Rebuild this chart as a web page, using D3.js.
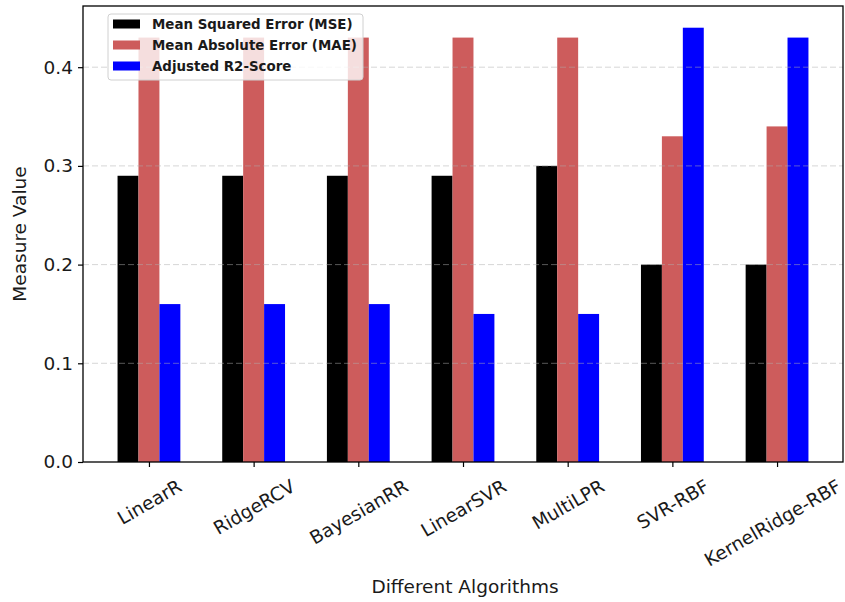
<!DOCTYPE html>
<html>
<head>
<meta charset="utf-8">
<script src="https://cdn.jsdelivr.net/npm/d3@7"></script>
<style>
  html, body { margin: 0; padding: 0; background: #fff; }
  svg { display: block; font-family: "DejaVu Sans", sans-serif; }
</style>
</head>
<body>
<svg id="chart" width="845" height="602"></svg>
<script>
const categories = ["LinearR", "RidgeRCV", "BayesianRR", "LinearSVR", "MultiLPR", "SVR-RBF", "KernelRidge-RBF"];
const seriesNames = ["Mean Squared Error (MSE)", "Mean Absolute Error (MAE)", "Adjusted R2-Score"];
const mseValues = [0.29, 0.29, 0.29, 0.29, 0.30, 0.20, 0.20];
const maeValues = [0.43, 0.43, 0.43, 0.43, 0.43, 0.33, 0.34];
const r2Values  = [0.16, 0.16, 0.16, 0.15, 0.15, 0.44, 0.43];
const seriesColors = ["#000000", "#cd5c5c", "#0000ff"];
const yTicks = [0.0, 0.1, 0.2, 0.3, 0.4];
const xLabel = "Different Algorithms";
const yLabel = "Measure Value";

const series = [mseValues, maeValues, r2Values];
const barWidth = 0.2;
const offsets = [-0.2, 0, 0.2];

const svg = d3.select("#chart");
const L = 83, R = 843, T = 6, B = 462;

const x = d3.scaleLinear().domain([-0.63, categories.length - 1 + 0.63]).range([L, R]);
const y = d3.scaleLinear().domain([0, 0.462]).range([B, T]);

// bars
series.forEach((vals, si) => {
  svg.append("g").selectAll("rect").data(vals).join("rect")
    .attr("x", (d, i) => x(i + offsets[si] - barWidth / 2))
    .attr("width", (d, i) => x(i + offsets[si] + barWidth / 2) - x(i + offsets[si] - barWidth / 2))
    .attr("y", d => y(d))
    .attr("height", d => B - y(d))
    .attr("fill", seriesColors[si]);
});

// grid (on top, translucent)
svg.append("g").selectAll("line").data(yTicks.filter(t => t > 0)).join("line")
  .attr("x1", L).attr("x2", R)
  .attr("y1", d => y(d)).attr("y2", d => y(d))
  .attr("stroke", "#b0b0b0").attr("stroke-opacity", 0.5)
  .attr("stroke-width", 1).attr("stroke-dasharray", "6,3");

// y axis
const yAxis = d3.axisLeft(y).tickValues(yTicks).tickFormat(d3.format(".1f")).tickSize(5).tickPadding(5);
const gy = svg.append("g").attr("transform", `translate(${L},0)`).call(yAxis);
gy.select(".domain").remove();
gy.selectAll("line").attr("stroke", "#000").attr("stroke-width", 1.2);
gy.selectAll("text").attr("font-size", 18.5).attr("fill", "#1a1a1a")
  .attr("font-family", "DejaVu Sans");

// x axis
const xAxis = d3.axisBottom(x).tickValues(d3.range(categories.length)).tickFormat(i => categories[i]).tickSize(5);
const gx = svg.append("g").attr("transform", `translate(0,${B})`).call(xAxis);
gx.select(".domain").remove();
gx.selectAll("line").attr("stroke", "#000").attr("stroke-width", 1.2);
gx.selectAll(".tick").each(function (d) {
  const tickX = x(d);
  const t = d3.select(this).select("text")
    .attr("font-size", 18.5).attr("fill", "#1a1a1a").attr("font-family", "DejaVu Sans")
    .attr("text-anchor", "middle").attr("dominant-baseline", "central")
    .attr("dy", null).attr("y", 0);
  const w = t.node().getComputedTextLength();
  const cy = 15 + (w * 0.5 + 15) / 2;
  const halfW = (w * Math.cos(Math.PI / 6) + 18.5 * 0.5 * 0.9) / 2;
  let dx = 0;
  if (tickX + halfW > 843) dx = 843 - (tickX + halfW);
  t.attr("transform", `translate(${dx},${cy}) rotate(-30)`);
});

// frame
svg.append("rect").attr("x", L).attr("y", T).attr("width", R - L).attr("height", B - T)
  .attr("fill", "none").attr("stroke", "#000").attr("stroke-width", 1.3);

// axis titles
svg.append("text").attr("x", (L + R) / 2 + 2).attr("y", 593)
  .attr("text-anchor", "middle").attr("font-size", 18.5).attr("fill", "#1a1a1a")
  .text(xLabel);
svg.append("text").attr("transform", `translate(26,${(T + B) / 2}) rotate(-90)`)
  .attr("text-anchor", "middle").attr("font-size", 18.5).attr("fill", "#1a1a1a")
  .text(yLabel);

// legend
const lg = svg.append("g");
lg.append("rect").attr("x", 108).attr("y", 14).attr("width", 255).attr("height", 66)
  .attr("rx", 3).attr("fill", "#fff").attr("fill-opacity", 0.8)
  .attr("stroke", "#d0d0d0").attr("stroke-width", 1);
seriesNames.forEach((name, i) => {
  const cy = 24 + i * 21;
  lg.append("rect").attr("x", 113).attr("y", cy - 4.5).attr("width", 27).attr("height", 9)
    .attr("fill", seriesColors[i]);
  lg.append("text").attr("x", 152).attr("y", cy).attr("dominant-baseline", "central")
    .attr("font-size", 13.4).attr("font-weight", "bold").attr("fill", "#1a1a1a")
    .text(name);
});
</script>
</body>
</html>
